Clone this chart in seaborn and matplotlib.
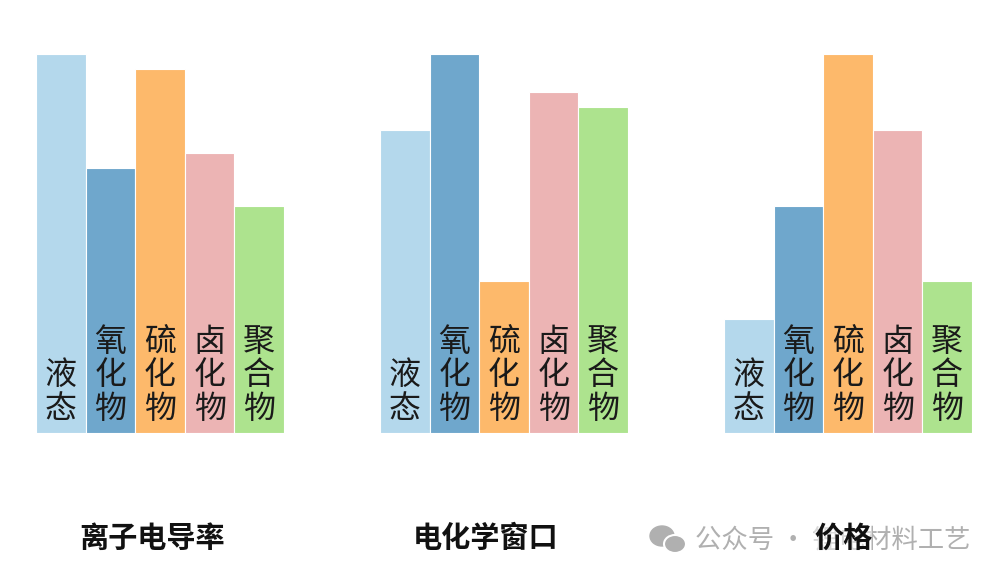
import pandas as pd
import matplotlib.pyplot as plt
import seaborn as sns
from matplotlib.patches import Ellipse

sns.set_style('white')
plt.rcParams['font.family'] = ['Noto Sans CJK SC', 'DejaVu Sans']

# categories and relative scores (max = 10)
categories = ['液态', '氧化物', '硫化物', '卤化物', '聚合物']
conductivity = [10.0, 7.0, 9.6, 7.4, 6.0]
echem_window = [8.0, 10.0, 4.0, 9.0, 8.6]
price = [3.0, 6.0, 10.0, 8.0, 4.0]
titles = ['离子电导率', '电化学窗口', '价格']
colors = ['#b4d8ec', '#6fa7cc', '#fdb96b', '#ecb4b4', '#ade38e']

groups = [conductivity, echem_window, price]
lefts = [36, 380, 724]
title_x = [152, 486, 843]

fig = plt.figure(figsize=(10.06, 5.77), dpi=100)
W, H = 1006, 577

for vals, left, title, tx in zip(groups, lefts, titles, title_x):
    ax = fig.add_axes([left / W, (H - 433) / H, 248 / W, 379 / H])
    df = pd.DataFrame({'cat': categories, 'val': vals})
    sns.barplot(data=df, x='cat', y='val', hue='cat', palette=colors,
                width=1.0, saturation=1, legend=False, ax=ax,
                edgecolor='white', linewidth=0.8)
    ax.set_ylim(0, 10)
    ax.set_xlim(-0.5, 4.5)
    ax.axis('off')
    for i, cat in enumerate(categories):
        ax.text(i, 0.22, '\n'.join(cat), ha='center', va='bottom',
                fontsize=23, color='#1a1a1a', linespacing=1.05)
    fig.text(tx / W, 1 - 538 / H, title, ha='center', va='center',
             fontsize=21, fontweight='bold', color='#111111', zorder=5,
             bbox=dict(facecolor='white', edgecolor='none', pad=0, alpha=0.5))

# watermark
fig.text(695 / W, 1 - 540 / H, '公众号 · 锂电材料工艺', ha='left', va='center',
         fontsize=19, color='#b0b0b0', zorder=1)
wm = fig.add_axes([648 / W, 1 - 556 / H, 40 / W, 32 / H])
wm.set_xlim(0, 40)
wm.set_ylim(0, 32)
wm.axis('off')
wm.add_patch(Ellipse((14, 20), 24, 20, color='#b0b0b0'))
wm.add_patch(Ellipse((27, 12), 22, 18, color='#b0b0b0', ec='white', lw=1.5))

plt.savefig('out.png', dpi=100)
